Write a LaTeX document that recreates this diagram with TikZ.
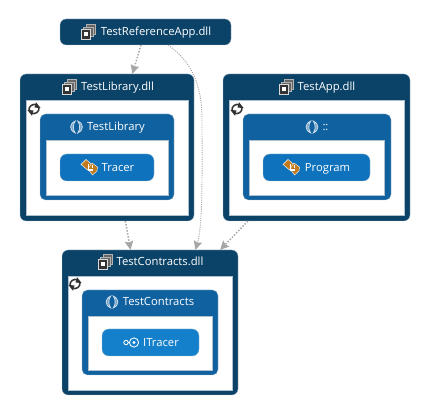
\documentclass[tikz,border=0pt]{standalone}
\usepackage{fontspec}
\setmainfont{Open Sans}
\usepackage{xcolor}
\usetikzlibrary{arrows.meta}
\definecolor{dllblue}{HTML}{0B4368}
\definecolor{nsblue}{HTML}{10619F}
\definecolor{classblue}{HTML}{0F72BD}
\definecolor{ifaceblue}{HTML}{1480CC}
\definecolor{rimgrey}{HTML}{AEC0CE}
\definecolor{edgegrey}{HTML}{A6A6A6}
\definecolor{iconorange}{HTML}{C27A1E}
\tikzset{
    boxnode/.style = {align=center, inner sep=0pt, rectangle, draw=rimgrey, very thin},
    dll/.style = {boxnode, rounded corners=4.5pt, fill=dllblue},
    pane/.style = {boxnode, fill=white},
    nspace/.style = {boxnode, rounded corners=4pt, fill=nsblue},
    classbox/.style = {boxnode, rounded corners=5pt, fill=classblue},
    ifacebox/.style = {boxnode, rounded corners=5pt, fill=ifaceblue},
    title/.style = {align=center, inner sep=0pt, text=white, text height=6.6pt, text depth=1.9pt, font=\fontsize{8.45pt}{10pt}\selectfont},
    dep/.style = {edgegrey, dash pattern=on 1.1pt off 1.2pt, line width=1.1pt, -{Stealth[length=6.6pt,width=6.4pt,inset=1pt]}},
    thindep/.style = {dep, dash pattern=on 0.8pt off 0.9pt, line width=0.7pt},
    dllicon/.pic = {
        \foreach \d in {5,2.5} {
            \draw [white!70!black, line width=0.55pt, fill=black!60] (-7+\d,-2.5-\d) rectangle (2.5+\d,7-\d);
        }
        \draw [white!85!black, line width=0.6pt, fill=black!80] (-7,-2.5) rectangle (2.5,7);
        \fill [white] (-4.5,0) rectangle (0,4.5);
    },
    nsicon/.pic = {
        \draw [white!80!nsblue, line width=0.55pt, fill=nsblue!55!white] (-1.2,-6) .. controls (-7.5,-3) and (-7.5,3) .. (-1.2,6) .. controls (-3.8,2.5) and (-3.8,-2.5) .. cycle;
        \draw [white!80!nsblue, line width=0.55pt, fill=nsblue!55!white] (1.2,-6) .. controls (7.5,-3) and (7.5,3) .. (1.2,6) .. controls (3.8,2.5) and (3.8,-2.5) .. cycle;
    },
    cycleicon/.pic = {
        \draw [black!80, line width=1.15pt] (-5,1.5) .. controls (-5.5,-3) and (-1,-6) .. (3,-4);
        \draw [black!80, line width=1.15pt] (5,-1.5) .. controls (5.5,3) and (1,6) .. (-3,4);
        \fill [black!80] (2,-6.8) -- (6.6,-1) -- (0.5,-1.4) -- cycle;
        \fill [black!80] (-2,6.8) -- (-6.6,1) -- (-0.5,1.4) -- cycle;
    },
    classicon/.pic = {
        \fill [iconorange, draw=white, line width=0.3pt] (-8,-2.5) -- (-3,-7.5) -- (3.5,-2) -- (-1.5,3) -- cycle;
        \fill [iconorange, draw=white, line width=0.3pt] (-1,2) -- (3,-4) -- (8.5,0) -- (8,4) -- (3.5,8) -- cycle;
        \draw [white, line width=0.8pt] (-0.5,-3) -- (-0.5,3) -- (4,3);
        \draw [white, line width=0.8pt] (3.5,-1.5) -- (3.5,1);
    },
    ifaceicon/.pic = {
        \draw [white, line width=0.65pt] (4,0) circle (4.6);
        \fill [white] (4,0) circle (1.7);
        \draw [white, line width=0.65pt] (-0.6,0) -- (-2,0);
        \draw [white, line width=0.65pt] (-4,0) circle (2.2);
    }
}
\begin{document}
\begin{tikzpicture}[x=0.75pt, y=-0.75pt]
    \useasboundingbox (0,0) rectangle (426,410);

    \node [dll, minimum width=128.25pt, minimum height=19.5pt] (refapp) at (145.5,32) {};
    \node [title] (refappname) at (156,32.5) {TestReferenceApp.dll};
    \pic at (88,32) {dllicon};

    \node [dll, minimum width=130.5pt, minimum height=110.25pt] (lib) at (107,147.5) {};
    \node [pane, minimum width=121.5pt, minimum height=86.25pt] (libpane) at (107,157.5) {};
    \node [title] (libname) at (117.5,87.5) {TestLibrary.dll};
    \pic at (69,87) {dllicon};
    \pic at (34,109) {cycleicon};
    \node [nspace, minimum width=100.5pt, minimum height=64.5pt] (libns) at (107,157) {};
    \node [pane, minimum width=91.5pt, minimum height=41.25pt] (libnspane) at (107,167.5) {};
    \node [title] (libnsname) at (116,127.5) {TestLibrary};
    \pic at (76.5,127) {nsicon};
    \node [classbox, minimum width=70.5pt, minimum height=20.25pt] (tracer) at (107,167.5) {};
    \node [title] (tracername) at (118,168) {Tracer};
    \pic at (89,167) {classicon};

    \node [dll, minimum width=140.25pt, minimum height=110.25pt] (app) at (316.5,147.5) {};
    \node [pane, minimum width=131.25pt, minimum height=86.25pt] (apppane) at (316.5,157.5) {};
    \node [title] (appname) at (326.5,87.5) {TestApp.dll};
    \pic at (286,87) {dllicon};
    \pic at (237,109) {cycleicon};
    \node [nspace, minimum width=111pt, minimum height=64.5pt] (appns) at (317,157) {};
    \node [pane, minimum width=101.25pt, minimum height=41.25pt] (appnspane) at (316.5,167.5) {};
    \node [title] (appnsname) at (325.5,127.5) {::};
    \pic at (312,127) {nsicon};
    \node [classbox, minimum width=80.25pt, minimum height=20.25pt] (program) at (316.5,167.5) {};
    \node [title] (programname) at (327.5,168) {Program};
    \pic at (291,167) {classicon};

    \node [dll, minimum width=132pt, minimum height=108.75pt] (contracts) at (150,322.5) {};
    \node [pane, minimum width=123pt, minimum height=85.5pt] (conpane) at (150,333) {};
    \node [title] (conname) at (160,262.5) {TestContracts.dll};
    \pic at (105,262) {dllicon};
    \pic at (75,284) {cycleicon};
    \node [nspace, minimum width=102pt, minimum height=63.75pt] (conns) at (150,332.5) {};
    \node [pane, minimum width=93pt, minimum height=40.5pt] (connspane) at (150,343) {};
    \node [title] (connsname) at (158.5,302.5) {TestContracts};
    \pic at (112,302) {nsicon};
    \node [ifacebox, minimum width=72.75pt, minimum height=20.25pt] (itracer) at (150.5,342.5) {};
    \node [title] (itracername) at (161,343) {ITracer};
    \pic at (130,342.5) {ifaceicon};

    \draw [dep] (refapp.251) -- (lib.71);
    \draw [thindep] (refapp.330) .. controls (192,62) and (202,85) .. (202,120) .. controls (202,170) and (203,225) .. (contracts.58);
    \draw [dep] (lib.284) -- (contracts.105);
    \draw [dep] (app.227) -- (contracts.46);
\end{tikzpicture}
\end{document}
